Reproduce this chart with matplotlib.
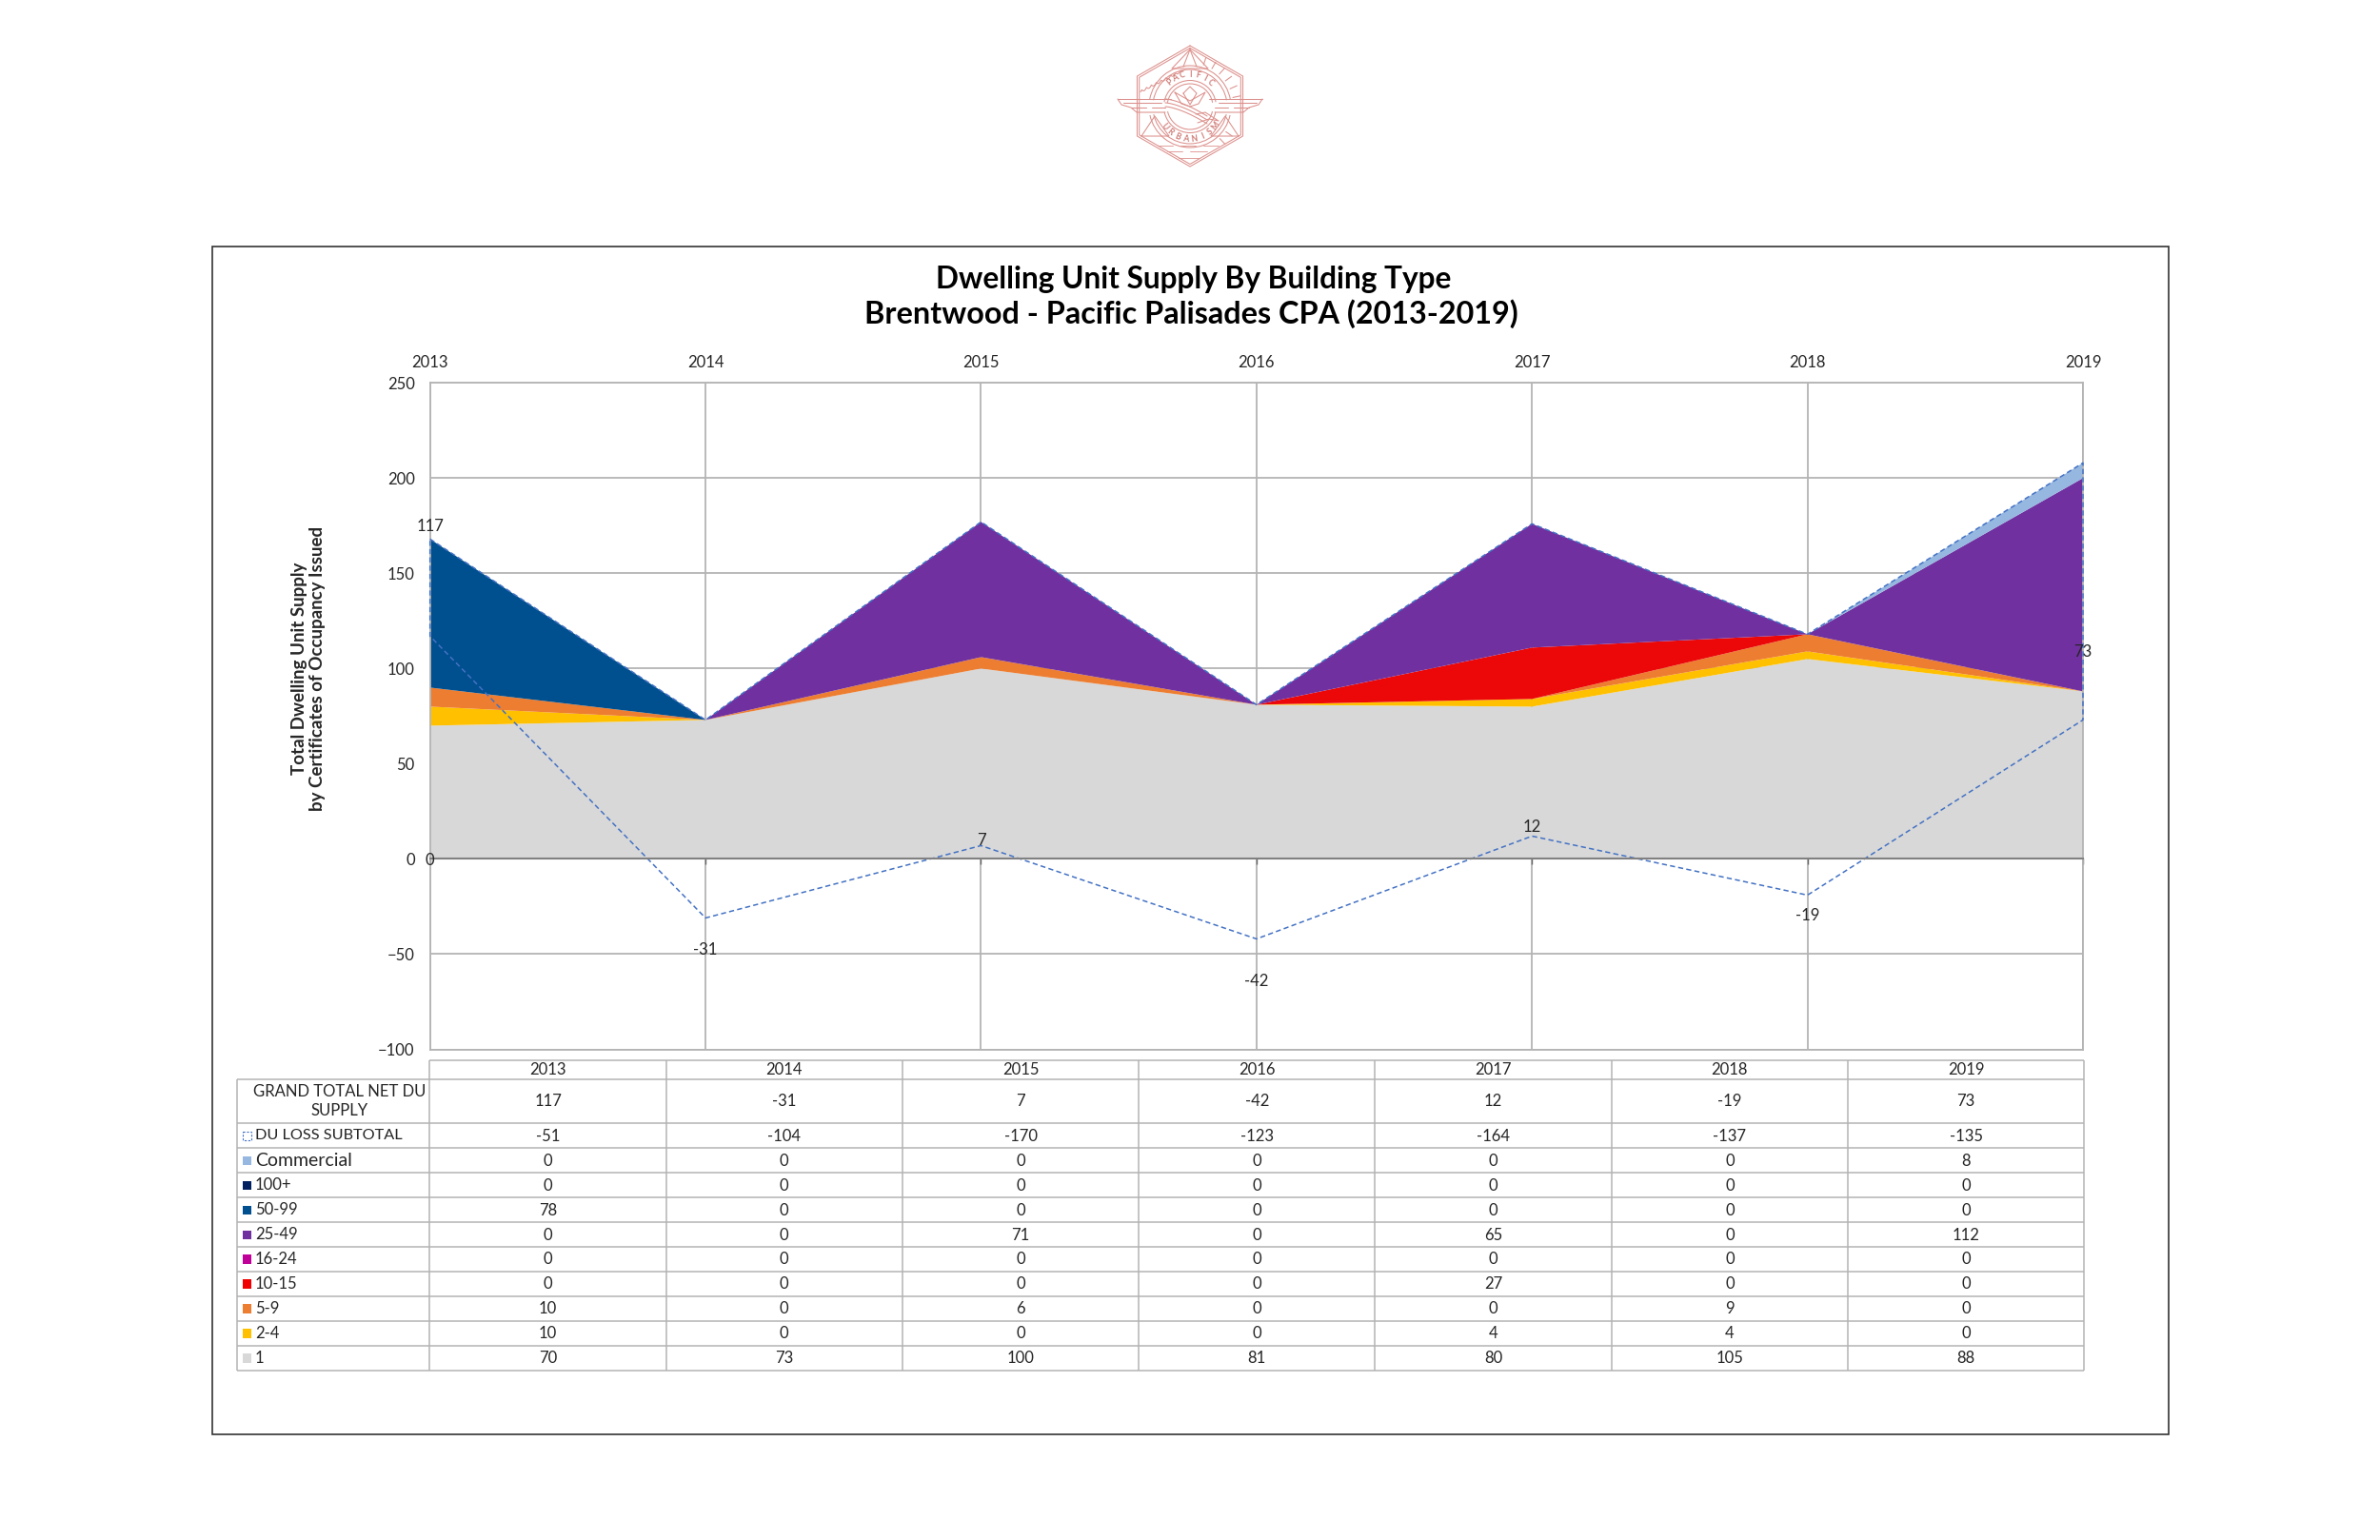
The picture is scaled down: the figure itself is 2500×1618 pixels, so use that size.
import numpy as np
import matplotlib
matplotlib.use("Agg")
import matplotlib.pyplot as plt
from matplotlib.patches import Rectangle, Arc

plt.rcParams['font.family'] = ['Lato', 'DejaVu Sans']

years = [2013, 2014, 2015, 2016, 2017, 2018, 2019]
grand_total = [117, -31, 7, -42, 12, -19, 73]
du_loss = [-51, -104, -170, -123, -164, -137, -135]
commercial = [0, 0, 0, 0, 0, 0, 8]
du_100 = [0, 0, 0, 0, 0, 0, 0]
du_50 = [78, 0, 0, 0, 0, 0, 0]
du_25 = [0, 0, 71, 0, 65, 0, 112]
du_16 = [0, 0, 0, 0, 0, 0, 0]
du_10 = [0, 0, 0, 0, 27, 0, 0]
du_5 = [10, 0, 6, 0, 0, 9, 0]
du_2 = [10, 0, 0, 0, 4, 4, 0]
du_1 = [70, 73, 100, 81, 80, 105, 88]

W, H = 2500, 1618
GRID = '#b4b4b4'
TXT = '#262626'
DASH = '#4472c4'

# bottom to top, same order excel stacks them
stack = [du_1, du_2, du_5, du_10, du_16, du_25, du_50, du_100, commercial]
stack_colors = ['#d8d8d8', '#ffc000', '#ed7d31', '#ec0808', '#c00099', '#7030a0', '#004f8e', '#002060', '#95b7e0']

# table rows, top to bottom
row_names = ['DU LOSS SUBTOTAL', 'Commercial', '100+', '50-99', '25-49', '16-24', '10-15', '5-9', '2-4', '1']
row_values = [du_loss, commercial, du_100, du_50, du_25, du_16, du_10, du_5, du_2, du_1]
row_colors = [None, '#95b7e0', '#002060', '#004f8e', '#7030a0', '#c00099', '#f00000', '#ed7d31', '#ffc000', '#d8d8d8']

# label offsets in pixels from the net line
label_offset = [115, -34, 5, -45, 9, -22, 71]

fig = plt.figure(figsize=(W / 100, H / 100), dpi=100, facecolor='white')

# overlay in pixel coords for frame, table and logo
ov = fig.add_axes([0, 0, 1, 1], zorder=0)
ov.set_xlim(0, W)
ov.set_ylim(H, 0)
ov.axis('off')

ov.add_patch(Rectangle((223, 258.5), 2054.5, 1248, fill=False, ec='#333333', lw=1.2))
ov.text(1254, 293, 'Dwelling Unit Supply By Building Type', ha='center', va='center',
        fontsize=22.8, fontweight='bold', color='black')
ov.text(1251, 330, 'Brentwood - Pacific Palisades CPA (2013-2019)', ha='center', va='center',
        fontsize=23.3, fontweight='bold', color='black')
ov.text(324, 702, 'Total Dwelling Unit Supply\nby Certificates of Occupancy Issued', ha='center', va='center',
        rotation=90, fontsize=13.5, fontweight='bold', color=TXT, linespacing=1.2, multialignment='center')

# main chart
left, right, top, bottom = 451.7, 2188, 402.3, 1102.5
ax = fig.add_axes([left / W, 1 - bottom / H, (right - left) / W, (bottom - top) / H], zorder=1)
ax.patch.set_alpha(0)
x = np.arange(len(years))
ax.stackplot(x, *stack, colors=stack_colors, lw=0, zorder=2)
total = np.sum(stack, axis=0)

# the loss area has no fill, only the dashed outline
ox = np.concatenate([x, x[::-1], x[:1]])
oy = np.concatenate([total, np.array(grand_total)[::-1], total[:1]])
ax.plot(ox, oy, color=DASH, lw=1.1, ls=(0, (3.5, 2.2)), zorder=3, clip_on=False)

ax.set_xlim(0, 6)
ax.set_ylim(-100, 250)
ax.set_yticks(range(-100, 251, 50))
ax.set_xticks(x)
ax.set_xticklabels([])
ax.grid(True, color=GRID, lw=1.3)
ax.set_axisbelow(True)
ax.tick_params(axis='y', length=0, pad=11.5, labelsize=12, labelcolor=TXT)
ax.tick_params(axis='x', length=4, width=1, color='#666666', direction='out')
for s in ['top', 'left', 'right']:
    ax.spines[s].set_color(GRID)
    ax.spines[s].set_linewidth(1.3)
ax.spines['bottom'].set_position(('data', 0))
ax.spines['bottom'].set_color('#808080')
ax.spines['bottom'].set_linewidth(1.5)
ax.spines['bottom'].set_zorder(4)
ax.axhline(-100, color=GRID, lw=1.3, clip_on=False)

sec = ax.secondary_xaxis('top')
sec.set_xticks(x)
sec.set_xticklabels(years, fontsize=12, color=TXT)
sec.tick_params(length=0, pad=9.5)
sec.spines['top'].set_visible(False)

for i, v in enumerate(grand_total):
    ax.annotate(str(v), (x[i], v), xytext=(0, label_offset[i]), textcoords='offset pixels',
                ha='center', va='center', fontsize=12, color=TXT, zorder=6, annotation_clip=False)
ax.annotate('0', (0, 0), xytext=(0, -2), textcoords='offset pixels', ha='center', va='center',
            fontsize=12, color=TXT, zorder=6, annotation_clip=False)

# table
col0 = 248.7
cols = np.linspace(451.4, 2189.3, 8)
rows = [1113.7, 1133.7, 1180, 1206.3] + list(1206.3 + 25.93 * np.arange(1, 10))
LW = 1.1
ov.hlines(rows[0], cols[0], cols[-1], color=GRID, lw=LW)
ov.hlines(rows[1:], col0, cols[-1], color=GRID, lw=LW)
ov.vlines(cols, rows[0], rows[-1], color=GRID, lw=LW)
ov.vlines(col0, rows[1], rows[-1], color=GRID, lw=LW)

for j, yr in enumerate(years):
    cx = (cols[j] + cols[j + 1]) / 2
    ov.text(cx, (rows[0] + rows[1]) / 2 + 0.5, str(yr), ha='center', va='center', fontsize=12, color=TXT)
    ov.text(cx, (rows[1] + rows[2]) / 2 + 0.5, str(grand_total[j]), ha='center', va='center', fontsize=12, color=TXT)
ov.text(357, (rows[1] + rows[2]) / 2, 'GRAND TOTAL NET DU\nSUPPLY', ha='center', va='center',
        fontsize=12, color=TXT, linespacing=1.35)

for i, name in enumerate(row_names):
    cy = (rows[i + 2] + rows[i + 3]) / 2
    size = 14 if name == 'Commercial' else (11.7 if name.isupper() else 12)
    ov.text(268, cy, name, ha='left', va='center', fontsize=size, color=TXT)
    if row_colors[i] is None:
        ov.add_patch(Rectangle((254.5, cy - 4.5), 9, 9, fill=False, ec=DASH, lw=0.8, ls=(0, (2, 1.5))))
    else:
        ov.add_patch(Rectangle((254.5, cy - 4.5), 9.5, 9.5, fc=row_colors[i], ec='none'))
    for j, v in enumerate(row_values[i]):
        ov.text((cols[j] + cols[j + 1]) / 2, cy + 0.5, str(v), ha='center', va='center', fontsize=12, color=TXT)


# logo, just line work around its centre
def draw_logo(cx, cy):
    col = '#dc908c'
    lw = 0.75

    def line(pts, **kw):
        p = np.array(pts, dtype=float)
        ov.plot(p[:, 0] + cx, p[:, 1] + cy, color=col, lw=kw.get('lw', lw), solid_capstyle='round')

    for k in (1, 0.96):
        hx = np.array([0, 55.5, 55.5, 0, -55.5, -55.5, 0]) * k
        hy = np.array([-64, -32, 31, 63, 31, -32, -64]) * k
        line(np.column_stack([hx, hy]))

    # rings, broken where the wings cross
    for r in (43, 39, 27.5, 24):
        ov.add_patch(Arc((cx, cy), 2 * r, 2 * r, theta1=12, theta2=168, ec=col, lw=lw))
        ov.add_patch(Arc((cx, cy), 2 * r, 2 * r, theta1=190, theta2=350, ec=col, lw=lw))

    # triangles
    line([(0, -60), (-19, -40), (19, -40), (0, -60)])
    line([(0, -60), (-7, -42)])
    line([(0, -60), (7, -42)])
    line([(-51, 31), (-37, 10), (-22, 31), (-51, 31)])
    line([(51, 31), (37, 10), (22, 31), (51, 31)])

    # squiggle top left
    t = np.linspace(-52, -8, 70)
    line(np.column_stack([t, -17 - (t + 52) * 0.5 + 2.2 * np.abs(np.sin(t * 0.62))]))

    # rays top right
    for a in np.radians([-72, -60, -48, -36, -24, -12, 35, 47]):
        line([(46 * np.cos(a), 46 * np.sin(a)), (54 * np.cos(a), 54 * np.sin(a))])

    # wings
    for s in (-1, 1):
        line([(s * 76, -8), (s * 20, -8)])
        line([(s * 76, -8), (s * 72, -2), (s * 62, 1), (s * 56, 6), (s * 26, 6)])
        line([(s * 70, -4), (s * 30, -4)])
        line([(s * 62, 1), (s * 46, 1)])
        line([(s * 40, 1), (s * 26, 1)])

    # bird body and lotus
    tb = np.linspace(0, 1, 30)
    for d in (0, 4, 8):
        line(np.column_stack([-26 + 44 * tb, -8 + d + 18 * tb ** 1.5]))
    line([(6, 8), (16, 6), (30, 15), (20, 13), (8, 17)])
    line([(-16, -15), (0, -6), (16, -15), (9, -3), (0, 0), (-9, -3), (-16, -15)])
    line([(-7, -14), (0, -21), (7, -14), (0, -2), (-7, -14)])

    # bottom water dashes
    for yy, xs in [(41, [(-34, -18), (-10, 6), (14, 30)]), (47, [(-24, -8), (0, 18)]), (54, [(-12, 10)])]:
        for a, b in xs:
            line([(a, yy), (b, yy)], lw=0.6)

    # lettering along the ring
    for word, r, start, step, up in [('PACIFIC', 33.5, -130, 13.4, True), ('URBANISM', 34, 142.5, -15, False)]:
        for n, ch in enumerate(word):
            a = np.radians(start + step * n)
            rot = -(np.degrees(a) + 90) if up else -(np.degrees(a) - 90)
            ov.text(cx + r * np.cos(a), cy + r * np.sin(a), ch, ha='center', va='center',
                    rotation=rot, fontsize=6.2, fontweight='bold', color='#cf7c78')


draw_logo(1250, 112)

fig.savefig('out.png', dpi=100)
